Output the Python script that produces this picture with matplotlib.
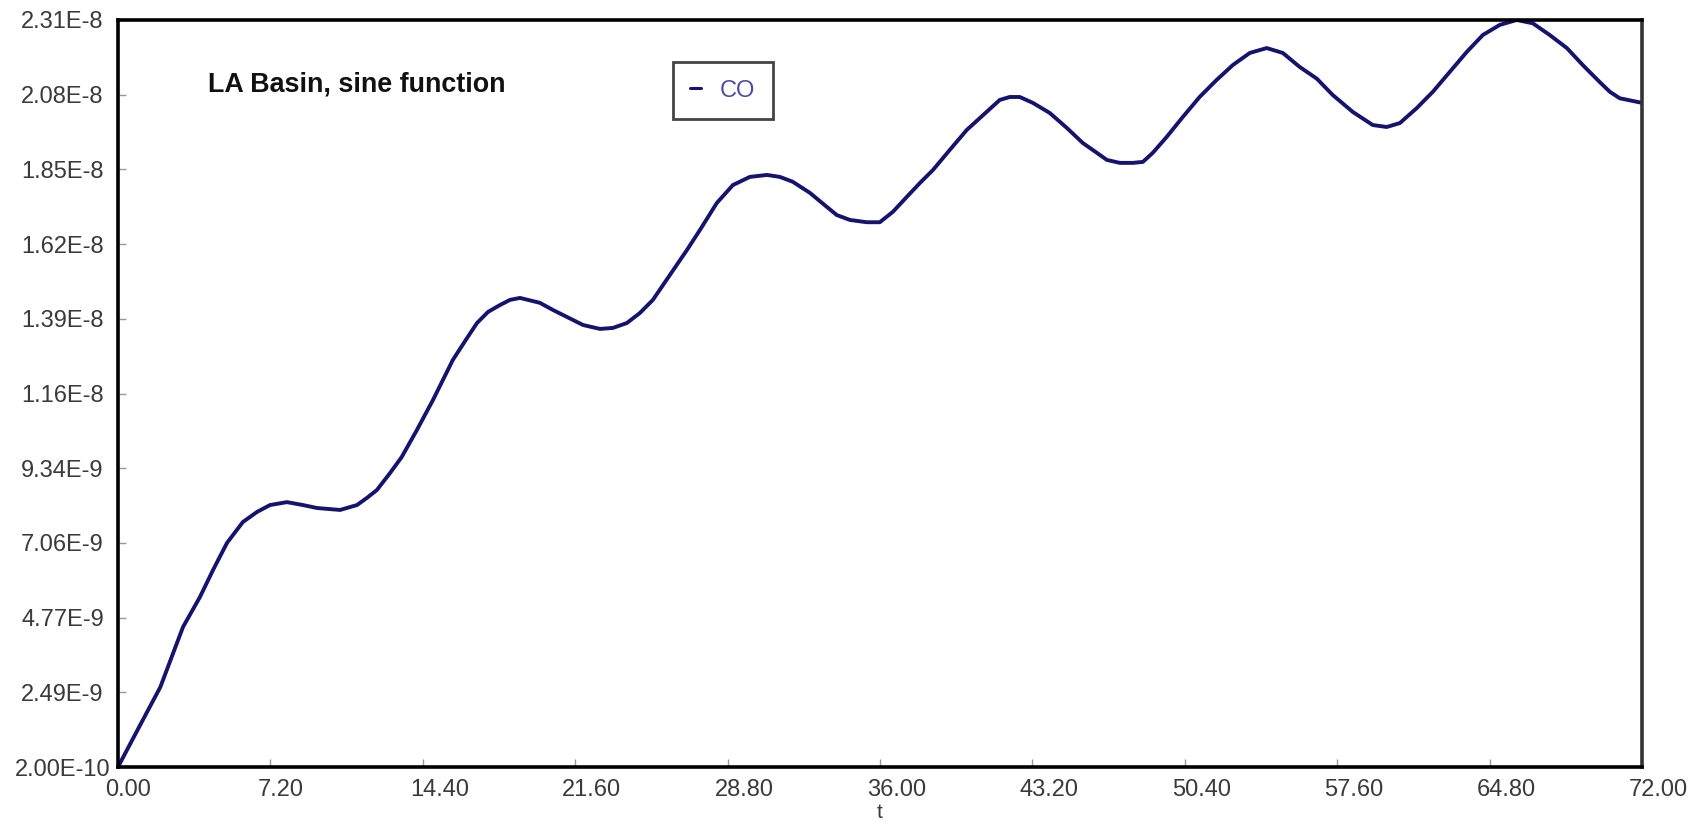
import matplotlib
matplotlib.use("Agg")
import matplotlib.pyplot as plt
import matplotlib.transforms as mtransforms
import numpy as np

# ---- data ----
t = [0.0, 1.0, 2.0, 3.07, 3.87, 4.49, 5.15, 5.9, 6.57, 7.18, 7.98, 8.74, 9.4,
     10.49, 11.29, 11.76, 12.23, 12.85, 13.4, 14.12, 14.88, 15.82, 16.49, 16.96,
     17.48, 18.04, 18.52, 18.99, 19.93, 20.55, 21.2, 21.97, 22.77, 23.38, 24.04,
     24.66, 25.27, 26.07, 26.88, 27.49, 28.29, 29.05, 29.85, 30.66, 31.27, 31.88,
     32.69, 33.49, 33.96, 34.58, 35.38, 35.99, 36.61, 37.27, 37.88, 38.5, 39.3,
     40.1, 41.66, 42.13, 42.6, 43.22, 44.02, 44.83, 45.58, 46.24, 46.72, 47.33,
     47.95, 48.42, 48.89, 49.55, 50.31, 51.1, 51.9, 52.67, 53.47, 54.27, 55.03,
     55.83, 56.64, 57.39, 58.34, 59.28, 59.94, 60.56, 61.36, 62.12, 62.92, 63.72,
     64.48, 65.28, 66.08, 66.84, 67.64, 68.45, 69.2, 70.0, 70.48, 70.95, 72.0]
co_e9 = [0.2, 1.43, 2.65, 4.49, 5.41, 6.24, 7.07, 7.71, 8.02, 8.23, 8.32, 8.23,
         8.14, 8.08, 8.23, 8.45, 8.69, 9.21, 9.7, 10.53, 11.45, 12.68, 13.35, 13.81,
         14.15, 14.36, 14.52, 14.58, 14.43, 14.21, 14.0, 13.75, 13.63, 13.66, 13.81,
         14.12, 14.52, 15.28, 16.05, 16.66, 17.49, 18.04, 18.29, 18.35, 18.29, 18.14,
         17.8, 17.37, 17.12, 16.97, 16.9, 16.9, 17.22, 17.68, 18.1, 18.5, 19.12,
         19.73, 20.65, 20.74, 20.74, 20.56, 20.25, 19.79, 19.33, 19.03, 18.81, 18.72,
         18.72, 18.75, 19.03, 19.52, 20.13, 20.74, 21.26, 21.72, 22.09, 22.24, 22.09,
         21.66, 21.3, 20.8, 20.28, 19.88, 19.82, 19.94, 20.4, 20.9, 21.51, 22.12,
         22.64, 22.95, 23.1, 23.0, 22.64, 22.24, 21.72, 21.2, 20.9, 20.7, 20.56]
co = [v * 1e-9 for v in co_e9]

series_label = "CO"
title_text = "LA Basin, sine function"
x_label = "t"
x_min, x_max = 0.0, 72.0
y_min, y_max = 2.0e-10, 2.31e-8
xtick_labels = ["0.00", "7.20", "14.40", "21.60", "28.80", "36.00", "43.20",
                "50.40", "57.60", "64.80", "72.00"]
ytick_labels = ["2.00E-10", "2.49E-9", "4.77E-9", "7.06E-9", "9.34E-9", "1.16E-8",
                "1.39E-8", "1.62E-8", "1.85E-8", "2.08E-8", "2.31E-8"]

# ---- figure ----
plt.rcParams['font.family'] = ['Liberation Sans', 'DejaVu Sans']
fig = plt.figure(figsize=(17.02, 8.25), dpi=100)
ax = fig.add_axes([118/1702, 58/825, 1524/1702, 747/825])

line, = ax.plot(t, co, color='#14146e', lw=2.8, solid_capstyle='round',
                solid_joinstyle='round', label=series_label)

ax.set_xlim(x_min, x_max)
ax.set_ylim(y_min, y_max)

ax.set_xticks(np.linspace(x_min, x_max, len(xtick_labels)))
ax.set_xticklabels(xtick_labels)
ax.set_yticks(np.linspace(y_min, y_max, len(ytick_labels)))
ax.set_yticklabels(ytick_labels)

ax.tick_params(axis='both', direction='in', length=6, width=1, color='#999999',
               labelsize=17, labelcolor='#3a3a3a')
ax.tick_params(axis='y', pad=40)
ax.tick_params(axis='x', pad=9)
for lab in ax.get_yticklabels():
    lab.set_horizontalalignment('center')
offset = mtransforms.ScaledTranslation(-13/100, 0, fig.dpi_scale_trans)
for lab in ax.get_xticklabels():
    lab.set_horizontalalignment('left')
    lab.set_transform(lab.get_transform() + offset)

for s in ax.spines.values():
    s.set_color('black')
    s.set_linewidth(2.6)
ax.spines['right'].set_color('#333333')

ax.set_xlabel(x_label, fontsize=15, color='#3a3a3a', labelpad=1)

ax.text(0.059, 0.913, title_text, transform=ax.transAxes, fontsize=19.4,
        fontweight='bold', color='#111111', ha='left', va='center')

leg = ax.legend(handles=[line], labels=[series_label], loc='upper left',
                bbox_to_anchor=(0.364, 0.944), handlelength=0.45,
                handletextpad=0.8, borderpad=0.75, fancybox=False,
                framealpha=1, edgecolor='#444444', fontsize=17,
                labelcolor='#4a4aa0', borderaxespad=0)
leg.get_frame().set_linewidth(2)
for h in leg.legend_handles:
    h.set_linewidth(2.2)

fig.savefig("out.png", dpi=100, facecolor='white')
